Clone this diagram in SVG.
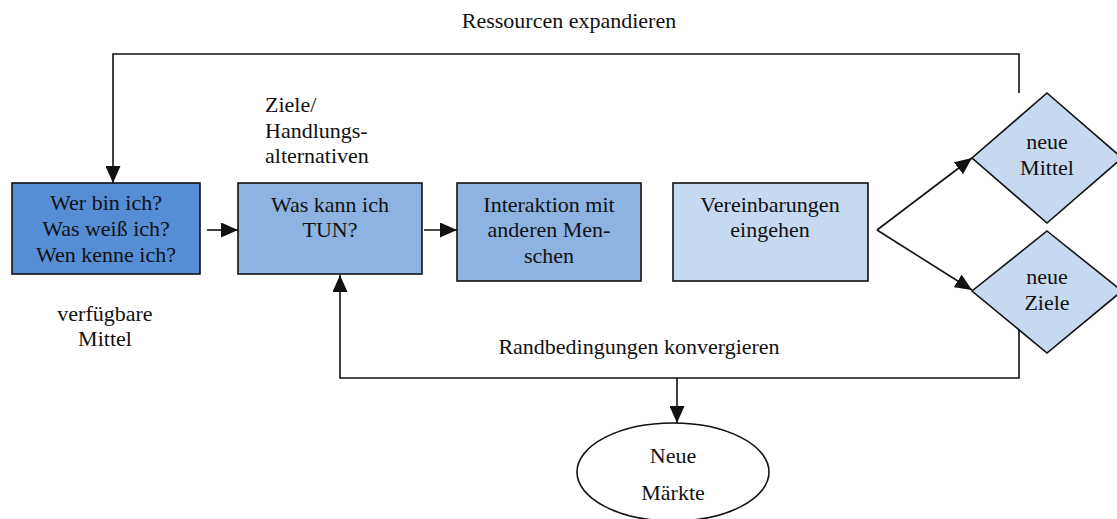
<svg xmlns="http://www.w3.org/2000/svg" width="1117" height="519" viewBox="0 0 1117 519">
<style>
.t{font-family:"Liberation Serif","Times New Roman",serif;font-size:22px;fill:#111;text-anchor:middle}
.l{text-anchor:start}
.box{stroke:#111;stroke-width:1.6}
.c{fill:none;stroke:#111;stroke-width:1.6}
</style>
<defs>
<marker id="ah" viewBox="0 0 17 15" refX="17" refY="7.5" markerWidth="17" markerHeight="15" markerUnits="userSpaceOnUse" orient="auto">
<path d="M0,0 L17,7.5 L0,15 Z" fill="#111"/>
</marker>
</defs>
<rect width="1117" height="519" fill="#fff"/>
<g id="connectors">
<path class="c" d="M1019,93 V54 H113 V183" marker-end="url(#ah)"/>
<path class="c" d="M1019,330 V378 H340 V275" marker-end="url(#ah)"/>
<path class="c" d="M677,378 V423" marker-end="url(#ah)"/>
<path class="c" d="M207,230 H238" marker-end="url(#ah)"/>
<path class="c" d="M424,230 H457" marker-end="url(#ah)"/>
<path class="c" d="M877,230 L972,290" marker-end="url(#ah)"/>
<path class="c" d="M877,230 L972,158" marker-end="url(#ah)"/>
</g>
<g id="labels">
<text class="t" x="569" y="28">Ressourcen expandieren</text>
<text class="t" x="639" y="354">Randbedingungen konvergieren</text>
<text class="t" x="105" y="321">verfügbare</text>
<text class="t" x="105" y="346">Mittel</text>
<text class="t l" x="265" y="112">Ziele/</text>
<text class="t l" x="265" y="138">Handlungs-</text>
<text class="t l" x="265" y="163">alternativen</text>
</g>
<g id="n1">
<rect class="box" x="12" y="183" width="188" height="91" fill="#558ED5"/>
<text class="t" x="106" y="210">Wer bin ich?</text>
<text class="t" x="106" y="236">Was weiß ich?</text>
<text class="t" x="106" y="262">Wen kenne ich?</text>
</g>
<g id="n2">
<rect class="box" x="238" y="183" width="184" height="91" fill="#8DB3E2"/>
<text class="t" x="330" y="212">Was kann ich</text>
<text class="t" x="330" y="237">TUN?</text>
</g>
<g id="n3">
<rect class="box" x="457" y="183" width="184" height="98" fill="#8DB3E2"/>
<text class="t" x="549" y="212">Interaktion mit</text>
<text class="t" x="549" y="237">anderen Men-</text>
<text class="t" x="549" y="263">schen</text>
</g>
<g id="n4">
<rect class="box" x="673" y="183" width="195" height="98" fill="#C6D9F1"/>
<text class="t" x="770" y="212">Vereinbarungen</text>
<text class="t" x="770" y="237">eingehen</text>
</g>
<g id="n5">
<path class="box" d="M1047,93 L1122,158 L1047,223 L972,158 Z" fill="#C6D9F1"/>
<text class="t" x="1047" y="149">neue</text>
<text class="t" x="1047" y="175">Mittel</text>
</g>
<g id="n6">
<path class="box" d="M1047,231 L1122,291 L1047,353 L972,291 Z" fill="#C6D9F1"/>
<text class="t" x="1047" y="284">neue</text>
<text class="t" x="1047" y="310">Ziele</text>
</g>
<g id="n7">
<ellipse class="box" cx="673" cy="472" rx="96" ry="49" fill="#fff"/>
<text class="t" x="673" y="463">Neue</text>
<text class="t" x="673" y="500">Märkte</text>
</g>
</svg>
